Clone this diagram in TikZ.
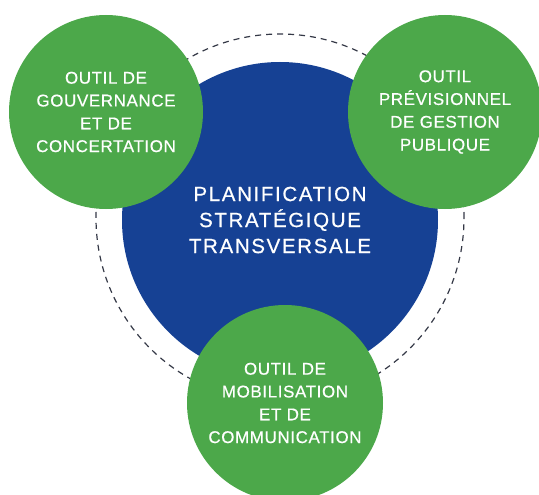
\documentclass[tikz,border=0pt]{standalone}
\usepackage{fontspec}
\setmainfont{Liberation Sans}
\usepackage{xcolor}
\usetikzlibrary{positioning}
\definecolor{toolgreen}{HTML}{4CA84A}
\definecolor{planblue}{HTML}{164194}
\definecolor{ringgrey}{HTML}{343846}

\begin{document}
\begin{tikzpicture}[x=1pt,y=-1pt]
      \tikzset{
        tool/.style={circle, fill=toolgreen, text=white, inner sep=0pt,
            minimum size=194pt, align=center,
            font=\fontsize{17}{22.8}\selectfont\addfontfeature{LetterSpace=3.5,FakeBold=0.5}},
        plan/.style={circle, fill=planblue, text=white, inner sep=0pt,
            minimum size=316pt, align=center,
            font=\fontsize{20.5}{26}\selectfont\addfontfeature{LetterSpace=8,FakeBold=0.6}}
      }
      \useasboundingbox (0,0) rectangle (539,495);

      \def\R{184} % dashed ring radius
      \coordinate (C) at (280,218);
      \draw[ringgrey, line width=1.2pt, dash pattern=on 6pt off 5pt] (C) circle (\R pt);

      % centre
      \node[plan] (plan) at (280,220) {PLANIFICATION\\STRATÉGIQUE\\TRANSVERSALE};

      % three tools round it
      \node[tool] (gov) at (106,112) {OUTIL DE\\GOUVERNANCE\\ET DE\\CONCERTATION};
      \node[tool] (prev) at (445,112) {OUTIL\\PRÉVISIONNEL\\DE GESTION\\PUBLIQUE};
      \node[tool, minimum size=196pt] (mob) at (285,403) {OUTIL DE\\MOBILISATION\\ET DE\\COMMUNICATION};
    \end{tikzpicture}
\end{document}
